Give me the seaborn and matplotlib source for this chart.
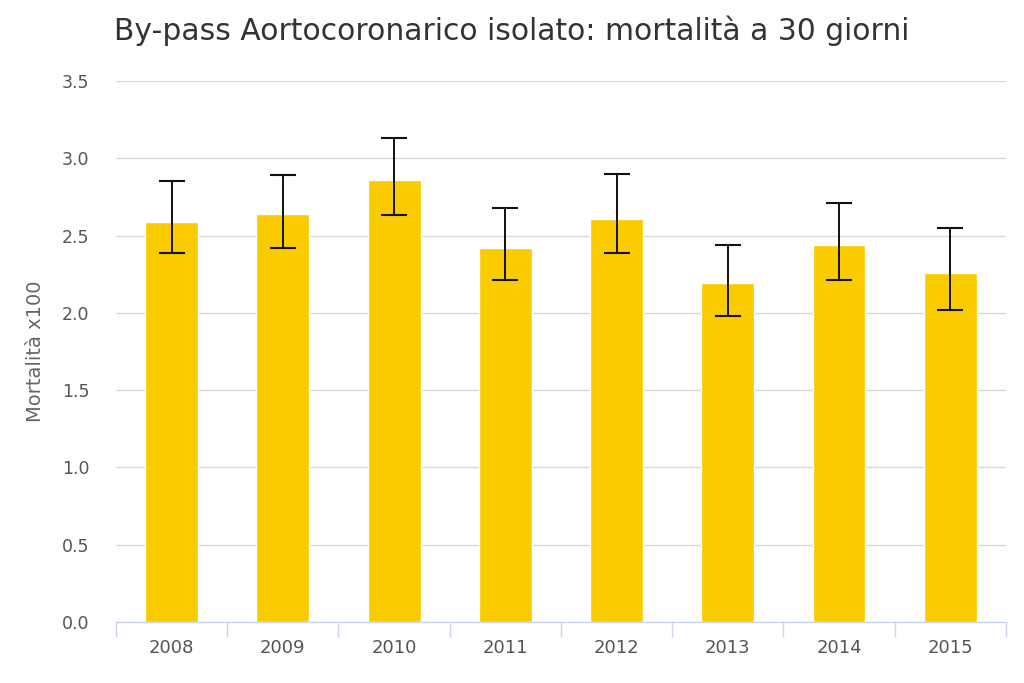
import matplotlib
matplotlib.use("Agg")
import matplotlib.pyplot as plt
import seaborn as sns
import pandas as pd
import numpy as np

years = ["2008", "2009", "2010", "2011", "2012", "2013", "2014", "2015"]
mortality = [2.59, 2.64, 2.86, 2.42, 2.61, 2.19, 2.44, 2.26]
ci_low = [2.39, 2.42, 2.63, 2.21, 2.39, 1.98, 2.21, 2.02]
ci_high = [2.85, 2.89, 3.13, 2.68, 2.90, 2.44, 2.71, 2.55]

sns.set_theme(style="white")
plt.rcParams['font.family'] = ['DejaVu Sans']

df = pd.DataFrame({"anno": years, "mortalita": mortality})

fig = plt.figure(figsize=(10.24, 6.83), dpi=100)
ax = fig.add_axes([0.1133, 0.0893, 0.869, 0.7921])

sns.barplot(data=df, x="anno", y="mortalita", color="#FACC00", width=0.475,
            saturation=1, errorbar=None, ax=ax)

xpos = np.arange(len(years))
m = np.array(mortality)
yerr = np.vstack([m - np.array(ci_low), np.array(ci_high) - m])
ax.errorbar(xpos, m, yerr=yerr, fmt="none", ecolor="#111111", elinewidth=1.4,
            capsize=9.5, capthick=1.5, zorder=5)

ax.set_ylim(0, 3.5)
ax.set_xlim(-0.5, len(years) - 0.5)
ax.set_yticks(np.arange(0, 3.51, 0.5))
ax.set_yticklabels([f"{v:.1f}" for v in np.arange(0, 3.51, 0.5)])
ax.yaxis.grid(True, color="#d8d8d8", linewidth=1)
ax.set_axisbelow(True)

for s in ["top", "right", "left"]:
    ax.spines[s].set_visible(False)
ax.spines["bottom"].set_color("#ccd6eb")
ax.spines["bottom"].set_linewidth(1)

ax.tick_params(axis="y", length=0, labelsize=12.5, labelcolor="#555555", pad=19)
ax.tick_params(axis="x", which="major", length=0, labelsize=13,
               labelcolor="#555555", pad=12)
ax.set_xticks(np.arange(-0.5, len(years)), minor=True)
ax.tick_params(axis="x", which="minor", bottom=True, length=11, color="#ccd6eb",
               width=1, direction="out")

ax.set_xlabel("")
ax.set_ylabel("Mortalità x100", fontsize=14, color="#666666", labelpad=12)

title = fig.text(0.5, 1 - 40 / 683, "By-pass Aortocoronarico isolato: mortalità a 30 giorni",
                 fontsize=18, color="#333333", ha="center", va="baseline")
fig.canvas.draw()
w = title.get_window_extent().width
title.set_fontsize(18 * 793 / w)

fig.savefig("out.png", dpi=100, facecolor="white")
